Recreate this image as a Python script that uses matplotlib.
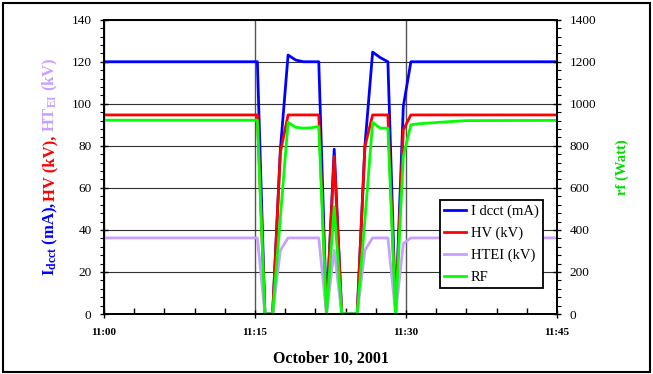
import pandas as pd
import matplotlib
matplotlib.use("Agg")
import matplotlib.pyplot as plt
import matplotlib.dates as mdates
from matplotlib.patches import Rectangle

plt.rcParams['font.family'] = 'Liberation Serif'
plt.rcParams['mathtext.fontset'] = 'custom'
plt.rcParams['mathtext.rm'] = 'Liberation Serif:bold'
plt.rcParams['mathtext.it'] = 'Liberation Serif:bold'

# sample times (October 10, 2001)
heures = ["11:00:00", "11:15:14", "11:15:59", "11:16:45", "11:17:31", "11:18:17",
          "11:19:03", "11:19:49", "11:20:34", "11:21:20", "11:22:06", "11:22:52",
          "11:23:37", "11:24:23", "11:25:09", "11:25:55", "11:26:41", "11:27:26",
          "11:28:12", "11:28:58", "11:29:44", "11:30:29", "11:31:15", "11:32:45",
          "11:34:15", "11:36:00", "11:45:00"]
i_dcct = [120, 120, 0, 0, 78, 123.2, 120.8, 120, 120, 120, 0, 78.4, 0, 0, 0, 80,
          124.6, 122, 120, 0, 98.8, 120, 120, 120, 120, 120, 120]
hv = [94.7, 94.7, 0, 0, 77, 94.7, 94.7, 94.7, 94.7, 94.7, 0, 75, 0, 0, 0, 79.7,
      94.7, 94.7, 94.7, 0, 87.6, 94.7, 94.7, 94.7, 94.7, 94.7, 94.7]
htei = [36.2, 36.2, 0, 0, 30.3, 36.2, 36.2, 36.2, 36.2, 36.2, 0, 30.3, 0, 0, 0, 30.3,
        36.2, 36.2, 36.2, 0, 33.5, 36.2, 36.2, 36.2, 36.2, 36.2, 36.2]
rf = [922, 922, 0, 0, 460, 912, 888, 884, 886, 892, 0, 510, 0, 0, 0, 450,
      912, 884, 884, 0, 750, 900, 905, 910, 915, 920, 921]

t = pd.to_datetime(["2001-10-10 " + h for h in heures])

bleu, rouge, lilas, vert = "#0000ff", "#ff0000", "#c9a0ff", "#00ff00"

fig = plt.figure(figsize=(6.53, 3.74), dpi=100)
ax = fig.add_axes([0.1593, 0.1604, 0.6937, 0.7869])
ax2 = ax.twinx()

l1, = ax.plot(t, i_dcct, color=bleu, lw=2, label="I dcct (mA)")
l2, = ax.plot(t, hv, color=rouge, lw=2, label="HV (kV)")
l3, = ax.plot(t, htei, color=lilas, lw=2, label="HTEI (kV)")
l4, = ax2.plot(t, rf, color=vert, lw=2, label="RF")

debut, fin = pd.Timestamp("2001-10-10 11:00"), pd.Timestamp("2001-10-10 11:45")
ax.set_xlim(debut, fin)
ax.set_ylim(0, 140)
ax2.set_ylim(0, 1400)

ax.xaxis.set_major_locator(mdates.MinuteLocator(byminute=[0, 15, 30, 45]))
ax.xaxis.set_minor_locator(mdates.MinuteLocator(byminute=range(0, 60, 3)))
ax.xaxis.set_major_formatter(mdates.DateFormatter("%H:%M"))
ax.set_yticks(range(0, 141, 20))
ax.set_yticks(range(0, 141, 4), minor=True)
ax2.set_yticks(range(0, 1401, 200))
ax2.set_yticks(range(0, 1401, 40), minor=True)

ax.grid(True, which="major", axis="y", color="#303030", lw=0.8)
ax.grid(True, which="major", axis="x", color="#555555", lw=1)
ax.set_axisbelow("line")

for a in (ax, ax2):
    for s in a.spines.values():
        s.set_linewidth(1.3)
ax.tick_params(axis="y", which="major", direction="inout", length=6, width=1, labelsize=9.5, pad=6)
ax.tick_params(axis="y", which="minor", direction="out", length=3, width=0.8)
ax.tick_params(axis="x", which="major", direction="inout", length=6, width=1, pad=7)
ax.tick_params(axis="x", which="minor", direction="in", length=4, width=1, color="black")
ax2.tick_params(axis="y", which="major", direction="inout", length=6, width=1, labelsize=9.5, pad=6)
ax2.tick_params(axis="y", which="minor", direction="out", length=3, width=0.8)
for lab in ax.get_xticklabels():
    lab.set_fontweight("bold")
    lab.set_fontsize(8)

ax.set_xlabel("October 10, 2001", fontsize=11.5, fontweight="bold", labelpad=10)
ax2.set_ylabel("rf (Watt)", color="#00dd00", fontsize=10.5, fontweight="bold", labelpad=14)

# multi-coloured left label
morceaux = [(r"I$_{\mathrm{dcct}}$ (mA), ", bleu),
            ("HV (kV), ", rouge),
            (r"HT$_{\mathrm{EI}}$ (kV)", lilas)]
textes = [fig.text(50 / 653, 0.5, s, color=c, rotation=90, fontsize=12,
                   fontweight="bold", ha="center", va="bottom")
          for s, c in morceaux]
fig.canvas.draw()
r = fig.canvas.get_renderer()
hauteurs = [tx.get_window_extent(r).height / fig.bbox.height for tx in textes]
y0 = (0.1604 + 0.7869 / 2) - sum(hauteurs) / 2
for tx, h in zip(textes, hauteurs):
    tx.set_y(y0)
    y0 += h

leg = ax2.legend(handles=[l1, l2, l3, l4], loc="lower right",
                 bbox_to_anchor=(0.969, 0.088), borderaxespad=0, fontsize=10.5,
                 frameon=True, fancybox=False, edgecolor="black", framealpha=1,
                 handlelength=1.5, handletextpad=0.3, labelspacing=0.58,
                 borderpad=0.3)
leg.get_frame().set_linewidth(1.3)

fig.patches.append(Rectangle((3 / 653, 2 / 374), 647 / 653, 369 / 374,
                             transform=fig.transFigure, fill=False,
                             edgecolor="black", lw=1.5))

fig.savefig("out.png", dpi=100)
